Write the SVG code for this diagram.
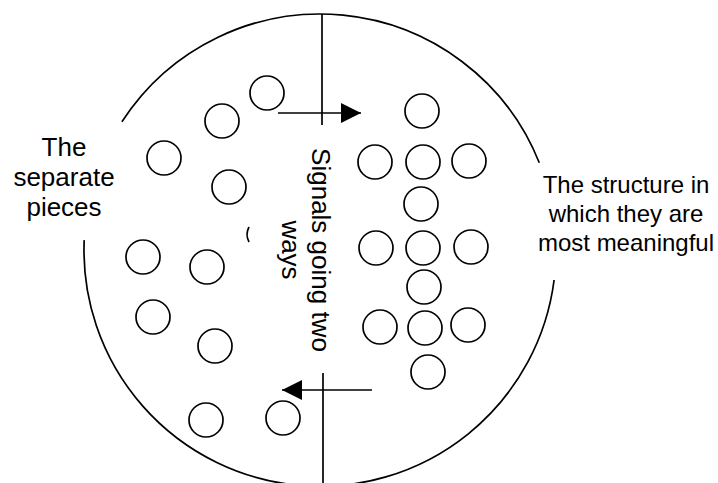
<svg xmlns="http://www.w3.org/2000/svg" width="718" height="483" viewBox="0 0 718 483">
<style>
.o{fill:none;stroke:#000;stroke-width:1.7}
.ln{fill:none;stroke:#000;stroke-width:1.7}
.t{font-family:"Liberation Sans",Arial,sans-serif;fill:#000;text-anchor:middle}
</style>
<defs>
<marker id="ah" viewBox="0 0 20 20" refX="20" refY="10" markerWidth="20" markerHeight="20" markerUnits="userSpaceOnUse" orient="auto">
<path d="M0,0 L20,10 L0,20 Z" fill="#000"/>
</marker>
</defs>
<rect width="718" height="483" fill="#fff"/>
<g id="boundary">
<path class="ln" d="M121.9,121.8 A236,236 0 0 1 539.3,162.8"/>
<path class="ln" d="M554.1,280 A236,236 0 0 1 84.2,240.1"/>
</g>
<g id="connectors">
<line class="ln" x1="322" y1="14" x2="322" y2="125"/>
<line class="ln" x1="323" y1="373" x2="323" y2="483"/>
<line class="ln" x1="278" y1="113" x2="361" y2="113" marker-end="url(#ah)"/>
<line class="ln" x1="372" y1="390" x2="282" y2="390" marker-end="url(#ah)"/>
</g>
<g id="separate-pieces">
<circle class="o" cx="267" cy="93" r="17"/>
<circle class="o" cx="222" cy="121" r="17"/>
<circle class="o" cx="164" cy="158" r="17"/>
<circle class="o" cx="229" cy="187" r="17"/>
<circle class="o" cx="143" cy="257" r="17"/>
<circle class="o" cx="207" cy="267" r="17"/>
<circle class="o" cx="153" cy="317" r="17"/>
<circle class="o" cx="215" cy="346" r="17"/>
<circle class="o" cx="206" cy="420" r="17"/>
<circle class="o" cx="283" cy="418" r="17"/>
<path class="o" d="M249,227 Q245,234.5 249,242"/>
</g>
<g id="structure">
<circle class="o" cx="422" cy="111" r="17"/>
<circle class="o" cx="375" cy="162" r="17"/>
<circle class="o" cx="423" cy="162" r="17"/>
<circle class="o" cx="469" cy="161" r="17"/>
<circle class="o" cx="421" cy="204" r="17"/>
<circle class="o" cx="376" cy="248" r="17"/>
<circle class="o" cx="423" cy="248" r="17"/>
<circle class="o" cx="471" cy="247" r="17"/>
<circle class="o" cx="424" cy="287" r="17"/>
<circle class="o" cx="380" cy="327" r="17"/>
<circle class="o" cx="425" cy="328" r="17"/>
<circle class="o" cx="468" cy="325" r="17"/>
<circle class="o" cx="428" cy="372" r="17"/>
</g>
<g id="label-left">
<text class="t" font-size="26" x="64" y="156">The</text>
<text class="t" font-size="26" x="64" y="186">separate</text>
<text class="t" font-size="26" x="64" y="216">pieces</text>
</g>
<g id="label-right">
<text class="t" font-size="24" x="626" y="193">The structure in</text>
<text class="t" font-size="24" x="626" y="222">which they are</text>
<text class="t" font-size="24" x="626" y="251">most meaningful</text>
</g>
<g id="label-signals">
<text class="t" font-size="26" transform="translate(312,250) rotate(90)"><tspan x="0" y="0">Signals going two</tspan><tspan x="0" y="30">ways</tspan></text>
</g>
</svg>
